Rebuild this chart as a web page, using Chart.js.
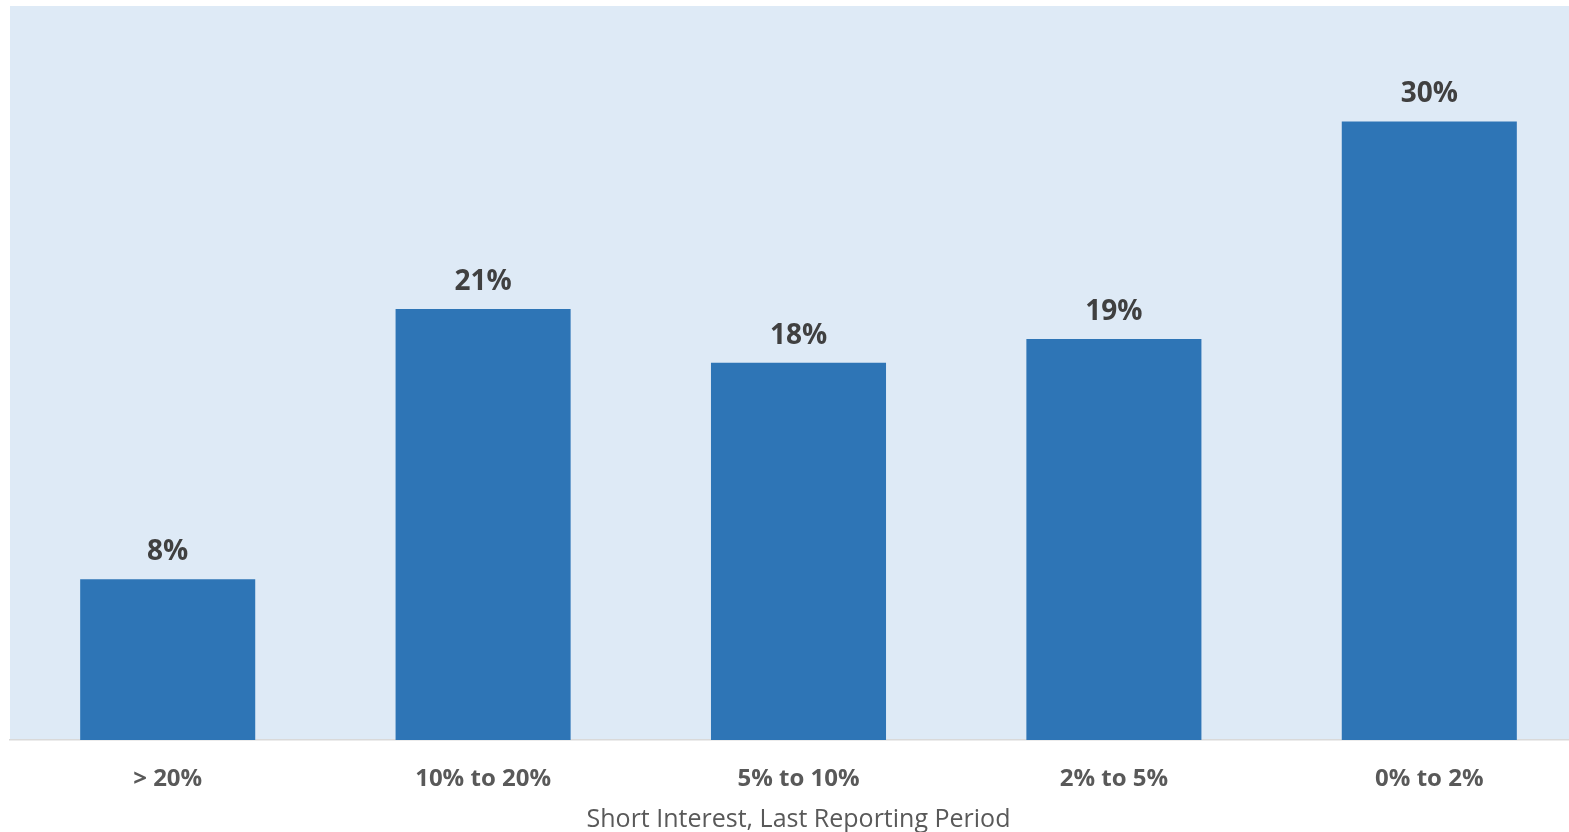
<!DOCTYPE html>
<html>
<head>
<meta charset="utf-8">
<script src="https://cdn.jsdelivr.net/npm/chart.js@4.4.1/dist/chart.umd.min.js"></script>
<style>
  html, body { margin: 0; padding: 0; background: #fff; overflow: hidden; }
  #wrap { width: 1590px; height: 835px; position: relative; }
</style>
</head>
<body>
<div id="wrap"><canvas id="shortChart"></canvas></div>
<script>
// data
const categories = ["> 20%", "10% to 20%", "5% to 10%", "2% to 5%", "0% to 2%"];
const shares = [7.8, 20.9, 18.3, 19.45, 30.0];
const axisTitle = "Short Interest, Last Reporting Period";

const FONT = "'Open Sans', 'Noto Sans', sans-serif";

// light blue plot background
const plotBackground = {
  id: "plotBackground",
  beforeDraw(chart) {
    const { ctx, chartArea } = chart;
    ctx.save();
    ctx.fillStyle = "#DEEAF6";
    ctx.fillRect(chartArea.left, chartArea.top, chartArea.right - chartArea.left, chartArea.bottom - chartArea.top);
    ctx.restore();
  },
};

// value labels above bars
const barLabels = {
  id: "barLabels",
  afterDatasetsDraw(chart) {
    const { ctx } = chart;
    const meta = chart.getDatasetMeta(0);
    ctx.save();
    ctx.font = "bold 28px " + FONT;
    ctx.fillStyle = "#404040";
    ctx.textAlign = "center";
    ctx.textBaseline = "middle";
    meta.data.forEach((bar, i) => {
      ctx.fillText(Math.round(shares[i]) + "%", bar.x, bar.y - 27);
    });
    ctx.restore();
  },
};

const ctx = document.getElementById("shortChart").getContext("2d");
const shortChart = new Chart(ctx, {
  type: "bar",
  data: {
    labels: categories,
    datasets: [
      {
        data: shares,
        backgroundColor: "#2E75B6",
        borderWidth: 0,
        barPercentage: 1,
        categoryPercentage: 0.555,
      },
    ],
  },
  options: {
    responsive: true,
    maintainAspectRatio: false,
    animation: false,
    layout: {
      padding: { left: 10, top: 6, right: 3, bottom: 0 },
    },
    scales: {
      x: {
        grid: { display: false },
        border: { display: true, color: "#D9D9D9", width: 1.5 },
        ticks: {
          color: "#595959",
          font: { family: FONT, size: 24, weight: "bold" },
          padding: 17,
          maxRotation: 0,
        },
        title: {
          display: true,
          text: axisTitle,
          color: "#595959",
          font: { family: FONT, size: 25 },
          padding: { top: 0, bottom: 0 },
        },
        afterFit(scale) {
          scale.height = 95;
        },
      },
      y: {
        display: false,
        beginAtZero: true,
        min: 0,
        max: 35.6,
      },
    },
    plugins: {
      legend: { display: false },
      tooltip: { enabled: false },
    },
  },
  plugins: [plotBackground, barLabels],
});
</script>
</body>
</html>
